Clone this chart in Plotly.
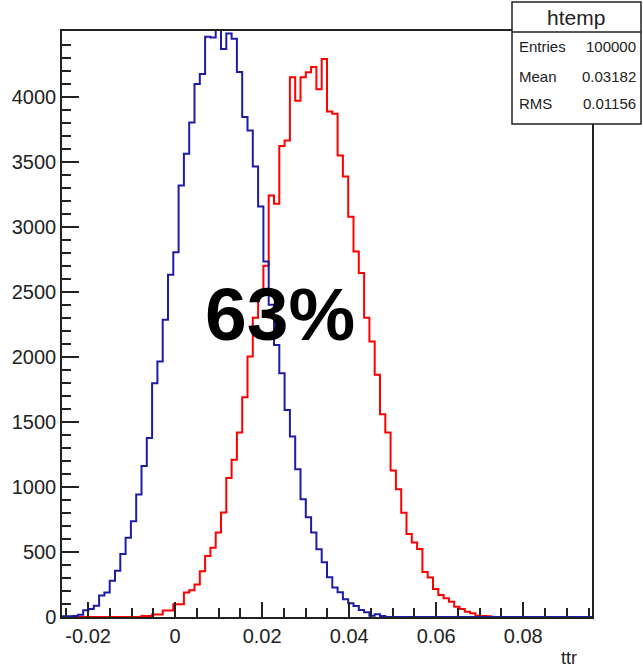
import plotly.graph_objects as go

# Histogram definition (ROOT htemp, 100 bins)
x_min = -0.0260
x_max = 0.0958
n_bins = 100

blue_counts = [
    5, 5, 8, 18, 52, 62, 86, 165, 188, 278,
    355, 485, 610, 737, 942, 1160, 1377, 1797, 1964, 2285,
    2631, 2805, 3318, 3562, 3802, 4098, 4175, 4460, 4455, 4560,
    4367, 4485, 4446, 4190, 3844, 3741, 3464, 3156, 2733, 2400,
    2092, 1874, 1592, 1387, 1136, 905, 767, 649, 521, 421,
    305, 226, 190, 136, 105, 85, 54, 36, 10, 21,
    8, 0, 0, 0, 0, 0, 0, 0, 0, 0,
    0, 0, 0, 0, 0, 0, 0, 0, 0, 0,
    0, 0, 0, 0, 0, 0, 0, 0, 0, 0,
    0, 0, 0, 0, 0, 0, 0, 0, 0, 0,
]

red_counts = [
    0, 0, 0, 0, 0, 0, 0, 0, 0, 0,
    0, 0, 0, 0, 0, 8, 8, 20, 20, 50,
    50, 98, 98, 188, 206, 250, 352, 468, 533, 649,
    803, 1068, 1209, 1418, 1690, 2003, 2300, 2480, 2700, 3241,
    3177, 3620, 3664, 4150, 3969, 4150, 4188, 4228, 4057, 4290,
    3887, 3869, 3548, 3387, 3077, 2810, 2644, 2300, 2118, 1862,
    1559, 1418, 1126, 982, 802, 638, 572, 523, 346, 303,
    215, 169, 144, 118, 79, 62, 41, 28, 10, 8,
    6, 0, 0, 0, 0, 0, 0, 0, 0, 0,
    0, 0, 0, 0, 0, 0, 0, 0, 0, 0,
]

y_max = 4505
x_tick_vals = [-0.02, 0, 0.02, 0.04, 0.06, 0.08]
x_tick_text = ["-0.02", "0", "0.02", "0.04", "0.06", "0.08"]
y_tick_vals = [0, 500, 1000, 1500, 2000, 2500, 3000, 3500, 4000]
y_tick_text = [str(v) for v in y_tick_vals]

stat_title = "htemp"
stat_rows = [("Entries", "100000"), ("Mean", "0.03182"), ("RMS", "0.01156")]
big_label = "63%"
x_title = "ttr"

width = (x_max - x_min) / n_bins
edges = [x_min + i * width for i in range(n_bins + 1)]


def step_xy(counts):
    xs = list(edges)
    ys = list(counts) + [counts[-1]]
    return xs, ys


FONT = "Liberation Sans, Arial, Helvetica, sans-serif"

fig = go.Figure()
rx, ry = step_xy(red_counts)
fig.add_trace(go.Scatter(x=rx, y=ry, mode="lines", line=dict(color="#ff0000", width=2, shape="hv"),
                         hoverinfo="skip", showlegend=False))
bx, by = step_xy(blue_counts)
fig.add_trace(go.Scatter(x=bx, y=by, mode="lines", line=dict(color="#1c1ca8", width=2, shape="hv"),
                         hoverinfo="skip", showlegend=False))

W, H = 643, 668
L, R, T, B = 62, 51, 31, 51
pw, ph = W - L - R, H - T - B


def px2paper(px, py):
    return (px - L) / pw, (H - B - py) / ph


fig.update_layout(
    width=W, height=H,
    margin=dict(l=L, r=R, t=T, b=B),
    paper_bgcolor="white", plot_bgcolor="white",
    font=dict(family=FONT, color="#222222"),
    xaxis=dict(range=[x_min, x_max], tickvals=x_tick_vals, ticktext=x_tick_text,
               ticks="inside", ticklen=15, tickwidth=1.5, tickcolor="#222",
               minor=dict(dtick=0.005, tick0=0, ticks="inside", ticklen=9, tickwidth=1.5, tickcolor="#222"),
               showline=True, linecolor="#222", linewidth=1.5, mirror=True,
               showgrid=False, zeroline=False, tickfont=dict(size=20, family=FONT)),
    yaxis=dict(range=[0, y_max], tickvals=y_tick_vals, ticktext=y_tick_text,
               ticks="inside", ticklen=17, tickwidth=1.5, tickcolor="#222",
               minor=dict(dtick=100, tick0=0, ticks="inside", ticklen=9, tickwidth=1.5, tickcolor="#222"),
               showline=True, linecolor="#222", linewidth=1.5, mirror=True,
               showgrid=False, zeroline=False, tickfont=dict(size=20, family=FONT)),
)

# Stat box
bx0, by0 = px2paper(512, 2)
bx1, by1 = px2paper(641, 124)
fig.add_shape(type="rect", xref="paper", yref="paper", x0=bx0, x1=bx1, y0=by1, y1=by0,
              line=dict(color="#222", width=1.5), fillcolor="white", layer="above")
sx0, sy = px2paper(512, 32)
sx1, _ = px2paper(641, 32)
fig.add_shape(type="line", xref="paper", yref="paper", x0=sx0, x1=sx1, y0=sy, y1=sy,
              line=dict(color="#222", width=1.5), layer="above")

tx, ty = px2paper(576, 17)
fig.add_annotation(xref="paper", yref="paper", x=tx, y=ty, text=stat_title, showarrow=False,
                   font=dict(size=21, family=FONT, color="#222"), xanchor="center", yanchor="middle")
row_y = [47, 76, 104]
for (lab, val), yy in zip(stat_rows, row_y):
    lx, ly = px2paper(517, yy)
    vx, _ = px2paper(638, yy)
    fig.add_annotation(xref="paper", yref="paper", x=lx, y=ly, text=lab, showarrow=False,
                       font=dict(size=15, family=FONT, color="#222"), xanchor="left", yanchor="middle")
    fig.add_annotation(xref="paper", yref="paper", x=vx, y=ly, text=val, showarrow=False,
                       font=dict(size=15, family=FONT, color="#222"), xanchor="right", yanchor="middle")

# Big label
fig.add_annotation(x=0.0241, y=2330, xref="x", yref="y", text="<b>" + big_label + "</b>", showarrow=False,
                   font=dict(size=75, family=FONT, color="black"), xanchor="center", yanchor="middle")

# Axis title
ax, ay = px2paper(579, 658)
fig.add_annotation(xref="paper", yref="paper", x=ax, y=ay, text=x_title, showarrow=False,
                   font=dict(size=18, family=FONT, color="#222"), xanchor="right", yanchor="middle")

fig.write_html("out.html")
